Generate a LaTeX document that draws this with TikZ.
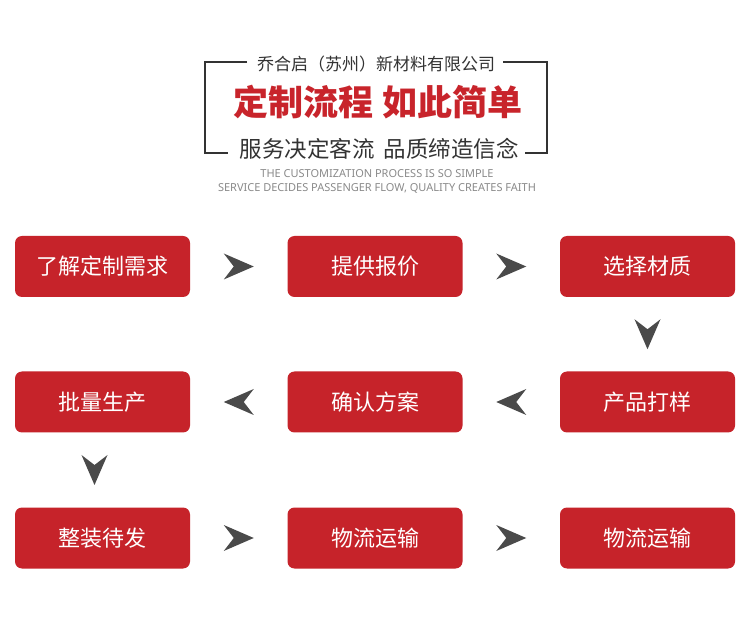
\documentclass[tikz,border=0pt]{standalone}
\usepackage{fontspec}
\newfontfamily\cjk{Noto Sans CJK SC}
\newfontfamily\latin{Noto Sans}
\definecolor{boxred}{HTML}{C6232A}
\definecolor{titlered}{HTML}{C8242B}
\definecolor{tipgray}{HTML}{4A4A4A}
\definecolor{framegray}{HTML}{333333}
\definecolor{engray}{HTML}{8A8A8A}
\tikzset{
  flowbox/.style={rectangle, rounded corners=7pt, fill=boxred, text=white,
    minimum width=175pt, minimum height=61pt, inner sep=0pt,
    font=\cjk\fontsize{22}{22}\selectfont},
  frameline/.style={framegray, line width=1.8pt},
  flowtip/.pic={\fill[tipgray] (15,0) -- (-15,-13) -- (-5,0) -- (-15,13) -- cycle;}
}
\begin{document}
\begin{tikzpicture}[x=1pt, y=-1pt]
\useasboundingbox[fill=white] (0,0) rectangle (750,617);

\draw[frameline] (247,62) -- (205,62) -- (205,153) -- (228,153);
\draw[frameline] (503,62) -- (547,62) -- (547,153) -- (525,153);

\node[text=framegray, font=\cjk\fontsize{17}{17}\selectfont] (co) at (376,64) {乔合启（苏州）新材料有限公司};
\node[text=titlered, font=\cjk\bfseries\fontsize{35}{35}\selectfont] (title) at (378,102) {定制流程\hspace{10pt}如此简单};
\node[text=framegray, font=\cjk\fontsize{22.5}{22.5}\selectfont] (sub) at (379,149) {服务决定客流\hspace{9pt}品质缔造信念};
\node[text=engray, font=\latin\fontsize{11}{11}\selectfont] (en1) at (377,174) {THE CUSTOMIZATION PROCESS IS SO SIMPLE};
\node[text=engray, font=\latin\fontsize{11}{11}\selectfont] (en2) at (377,188) {SERVICE DECIDES PASSENGER FLOW, QUALITY CREATES FAITH};

\node[flowbox] (s1) at (102.5,266.5) {了解定制需求};
\node[flowbox] (s2) at (375,266.5) {提供报价};
\node[flowbox] (s3) at (647.5,266.5) {选择材质};
\node[flowbox] (s4) at (102.5,402) {批量生产};
\node[flowbox] (s5) at (375,402) {确认方案};
\node[flowbox] (s6) at (647.5,402) {产品打样};
\node[flowbox] (s7) at (102.5,538) {整装待发};
\node[flowbox] (s8) at (375,538) {物流运输};
\node[flowbox] (s9) at (647.5,538) {物流运输};

\path (s1) -- (s2) pic[pos=.5, sloped, allow upside down]{flowtip};
\path (s2) -- (s3) pic[pos=.5, sloped, allow upside down]{flowtip};
\path (s3) -- (s6) pic[pos=.5, sloped, allow upside down]{flowtip};
\path (s6) -- (s5) pic[pos=.5, sloped, allow upside down]{flowtip};
\path (s5) -- (s4) pic[pos=.5, sloped, allow upside down]{flowtip};
\path ([xshift=-8pt]s4.south) -- ([xshift=-8pt]s7.north) pic[pos=.5, sloped, allow upside down]{flowtip};
\path (s7) -- (s8) pic[pos=.5, sloped, allow upside down]{flowtip};
\path (s8) -- (s9) pic[pos=.5, sloped, allow upside down]{flowtip};
\end{tikzpicture}
\end{document}
